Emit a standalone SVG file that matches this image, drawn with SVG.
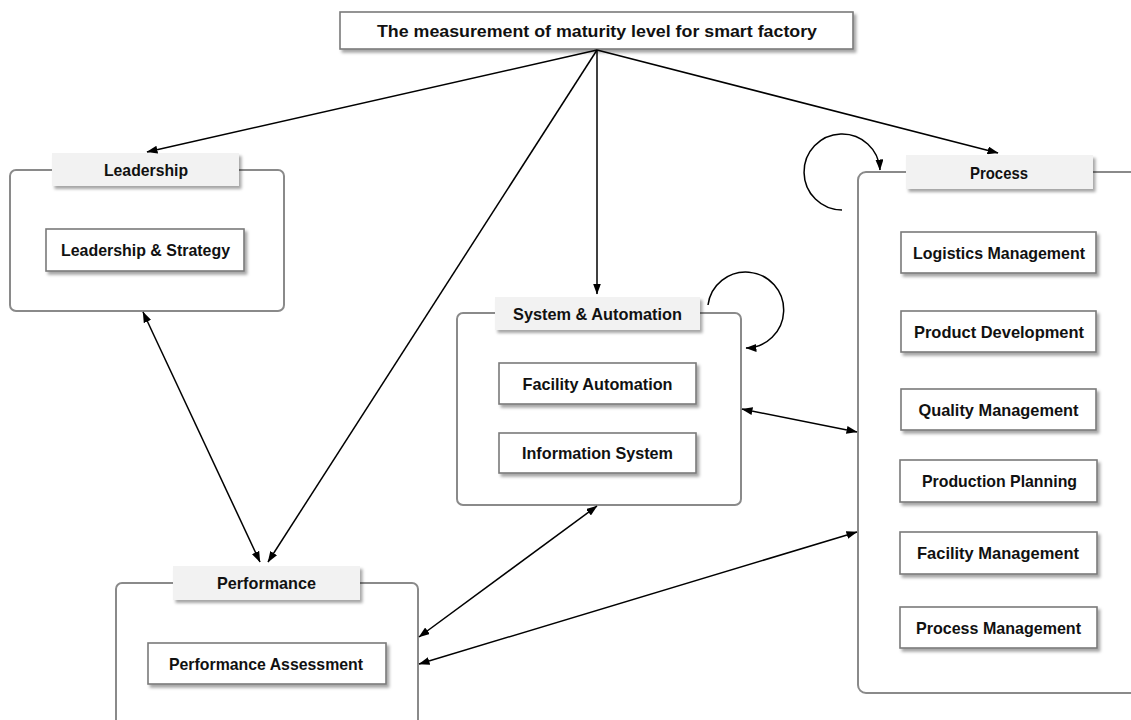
<svg xmlns="http://www.w3.org/2000/svg" width="1131" height="720" viewBox="0 0 1131 720">
<defs>
<filter id="sh" x="-10%" y="-20%" width="125%" height="160%">
<feDropShadow dx="2.5" dy="3" stdDeviation="1.5" flood-color="#000" flood-opacity="0.35"/>
</filter>
<marker id="ah" viewBox="0 0 11 8" refX="10.5" refY="4" markerWidth="11" markerHeight="8" markerUnits="userSpaceOnUse" orient="auto-start-reverse">
<path d="M0,0 L11,4 L0,8 z" fill="#000"/>
</marker>
</defs>
<style>
.grp{fill:#fff;stroke:#8a8a8a;stroke-width:2}
.tab{fill:#f2f2f2;stroke:none;filter:url(#sh)}
.box{fill:#fff;stroke:#7a7a7a;stroke-width:1.6;filter:url(#sh)}
.t{font-family:"Liberation Sans",Arial,sans-serif;font-weight:bold;font-size:17px;fill:#111;text-anchor:middle}
.c{fill:none;stroke:#000;stroke-width:1.5}
</style>
<rect width="1131" height="720" fill="#fff"/>

<g id="title">
<rect class="box" x="340" y="12" width="513" height="37"/>
<text class="t" x="597" y="37" font-size="18" textLength="440" lengthAdjust="spacingAndGlyphs">The measurement of maturity level for smart factory</text>
</g>

<g id="leadership">
<rect class="grp" x="10" y="170" width="274" height="141" rx="6"/>
<rect class="tab" x="52" y="153" width="187" height="33"/>
<text class="t" x="146" y="176" textLength="84" lengthAdjust="spacingAndGlyphs">Leadership</text>
<g id="leadership-strategy">
<rect class="box" x="46" y="229" width="198" height="42"/>
<text class="t" x="145.5" y="256" textLength="169" lengthAdjust="spacingAndGlyphs">Leadership &amp; Strategy</text>
</g>
</g>

<g id="system-automation">
<rect class="grp" x="457" y="313" width="284" height="192" rx="6"/>
<rect class="tab" x="495" y="297" width="205" height="33"/>
<text class="t" x="597.5" y="319.5" textLength="169" lengthAdjust="spacingAndGlyphs">System &amp; Automation</text>
<g id="facility-automation">
<rect class="box" x="499" y="363" width="197" height="41"/>
<text class="t" x="597.5" y="389.5" textLength="150" lengthAdjust="spacingAndGlyphs">Facility Automation</text>
</g>
<g id="information-system">
<rect class="box" x="499" y="433" width="197" height="40"/>
<text class="t" x="597.5" y="459" textLength="151" lengthAdjust="spacingAndGlyphs">Information System</text>
</g>
</g>

<g id="process">
<rect class="grp" x="858" y="172" width="290" height="521" rx="8"/>
<rect class="tab" x="906" y="155" width="187" height="34"/>
<text class="t" x="999" y="178.5" textLength="58" lengthAdjust="spacingAndGlyphs">Process</text>
<g id="logistics-management">
<rect class="box" x="901" y="232" width="195" height="41"/>
<text class="t" x="999" y="258.5" textLength="172" lengthAdjust="spacingAndGlyphs">Logistics Management</text>
</g>
<g id="product-development">
<rect class="box" x="901" y="311" width="195" height="41"/>
<text class="t" x="999" y="337.5" textLength="170" lengthAdjust="spacingAndGlyphs">Product Development</text>
</g>
<g id="quality-management">
<rect class="box" x="901" y="389" width="195" height="41"/>
<text class="t" x="998.5" y="415.5" textLength="160" lengthAdjust="spacingAndGlyphs">Quality Management</text>
</g>
<g id="production-planning">
<rect class="box" x="900" y="460" width="197" height="42"/>
<text class="t" x="999.5" y="487" textLength="155" lengthAdjust="spacingAndGlyphs">Production Planning</text>
</g>
<g id="facility-management">
<rect class="box" x="900" y="532" width="197" height="42"/>
<text class="t" x="998" y="559" textLength="162" lengthAdjust="spacingAndGlyphs">Facility Management</text>
</g>
<g id="process-management">
<rect class="box" x="900" y="607" width="197" height="41"/>
<text class="t" x="998.5" y="633.5" textLength="165" lengthAdjust="spacingAndGlyphs">Process Management</text>
</g>
</g>

<g id="performance">
<rect class="grp" x="116" y="583" width="302" height="160" rx="6"/>
<rect class="tab" x="173" y="566" width="187" height="34"/>
<text class="t" x="266.5" y="588.5" textLength="99" lengthAdjust="spacingAndGlyphs">Performance</text>
<g id="performance-assessment">
<rect class="box" x="148" y="643" width="238" height="41"/>
<text class="t" x="266" y="669.5" textLength="194" lengthAdjust="spacingAndGlyphs">Performance Assessment</text>
</g>
</g>

<g id="connectors">
<path class="c" d="M597,50 L147,152" marker-end="url(#ah)"/>
<path class="c" d="M597,50 L268,562" marker-end="url(#ah)"/>
<path class="c" d="M597,50 L597,294" marker-end="url(#ah)"/>
<path class="c" d="M597,50 L998,153" marker-end="url(#ah)"/>
<path class="c" d="M143,312 L260,562" marker-start="url(#ah)" marker-end="url(#ah)"/>
<path class="c" d="M742,409 L857,432" marker-start="url(#ah)" marker-end="url(#ah)"/>
<path class="c" d="M597,506 L419,637" marker-start="url(#ah)" marker-end="url(#ah)"/>
<path class="c" d="M857,532 L419,664" marker-start="url(#ah)" marker-end="url(#ah)"/>
<path class="c" d="M708,305 A38,38 0 1 1 746,348" marker-end="url(#ah)"/>
<path class="c" d="M842,210 A38,38 0 1 1 880,170" marker-end="url(#ah)"/>
</g>
</svg>
